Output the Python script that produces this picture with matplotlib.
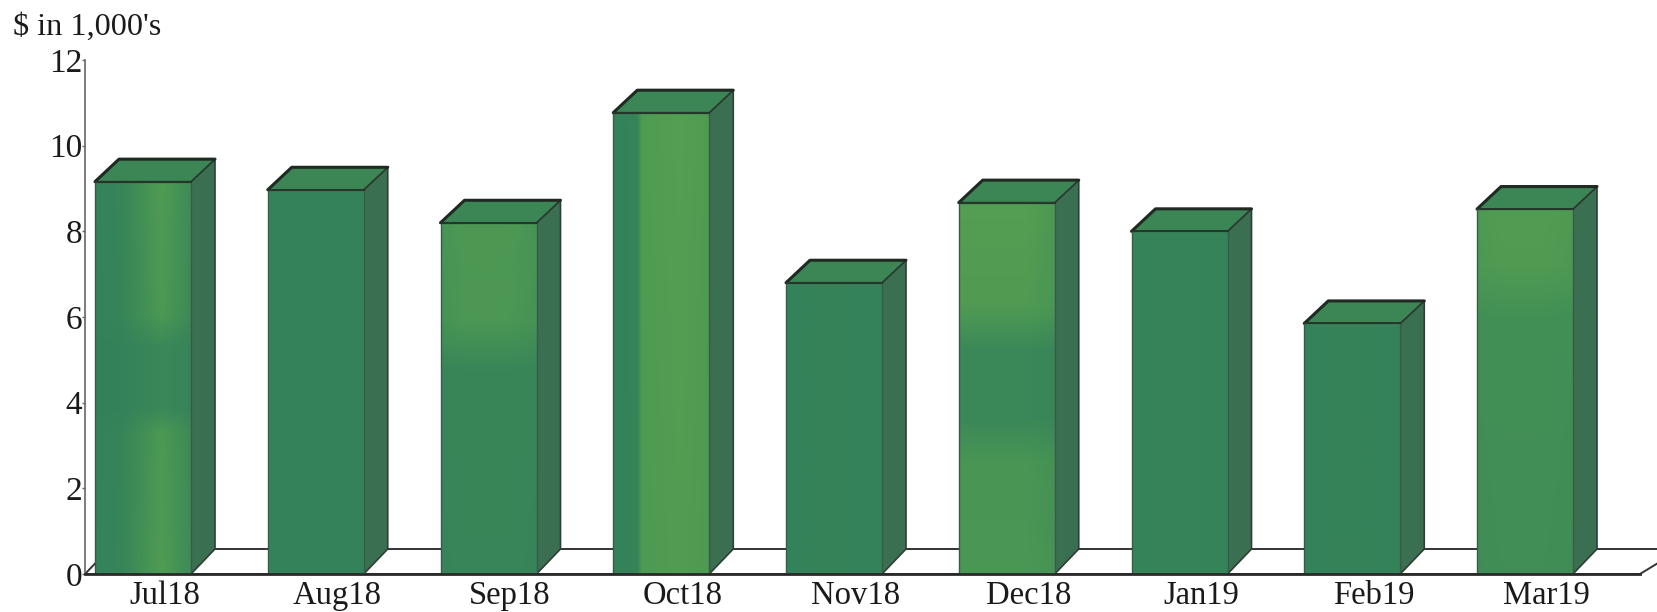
import numpy as np
import matplotlib
matplotlib.use("Agg")
import matplotlib.pyplot as plt
from matplotlib.colors import to_rgb
from matplotlib.patches import Polygon

months = ["Jul18", "Aug18", "Sep18", "Oct18", "Nov18", "Dec18", "Jan19", "Feb19", "Mar19"]
values = [9.16, 8.97, 8.2, 10.77, 6.8, 8.67, 8.0, 5.85, 8.52]
y_ticks = [0, 2, 4, 6, 8, 10, 12]
y_title = "$ in 1,000's"

# Look of each front face: value stops and brightness, plus brightness across the width
glow_y = [[0, .36, .42, .58, .66, 1], [0, 1], [0, .58, .72, 1], [0, 1], [0, 1], [0, .3, .42, .6, .72, 1],
          [0, 1], [0, 1], [0, .7, .85, 1]]
glow_v = [[.45, .4, .12, .12, .4, .45], [.05, .05], [.12, .15, .6, .65], [.75, .8], [.05, .05],
          [.6, .55, .18, .18, .7, .8], [.08, .08], [.05, .05], [.35, .4, .72, .75]]
glow_x = [[.1, .2, .3, 1.6, .6], [.6, .6, .6, 1, .6], [.8, 1, 1, 1, .8], [.05, .08, .9, 1, .9],
          [.8, 1, 1, 1, .8], [1, 1, 1, 1, .8], [.8, 1, 1, 1, .8], [.8, 1, 1, 1, .8], [.9, 1, 1, 1, .9]]
STOPS_X = [0, .25, .3, .7, 1]

W, H = 1657, 612
fig = plt.figure(figsize=(W / 100, H / 100), dpi=100, facecolor="white")
plt.rcParams["font.family"] = ["Liberation Serif", "DejaVu Serif"]
L, R, T, B = 85, 1657, 60, 574
ax = fig.add_axes([L / W, 1 - B / H, (R - L) / W, (B - T) / H])
ppx = 172.75
ax.set_xlim((L - 143) / ppx, (R - 143) / ppx)
ax.set_ylim(0, 12)

bw = 96 / ppx
dx = 24 / ppx
upx = (B - T) / 12
dy = 22.5 / upx
floor_dy = 25 / upx
dark = np.array(to_rgb("#33815a"))
light = np.array(to_rgb("#5ba650"))

x0, x1 = ax.get_xlim()
xr = (1640 - 143) / ppx
# floor
ax.add_patch(Polygon([(x0, 0), (x0 + dx, floor_dy), (x1 + dx, floor_dy), (xr, 0)],
                     closed=True, fc="white", ec="#333333", lw=1.4, clip_on=True, zorder=1))

for i, (m, v) in enumerate(zip(months, values)):
    l, r = i - bw / 2, i + bw / 2
    z = 2 + i
    # right side
    ax.add_patch(Polygon([(r, 0), (r + dx, floor_dy), (r + dx, v + dy), (r, v)], closed=True,
                         fc="#3b6f52", ec="#2f3f35", lw=1.2, zorder=z))
    # top
    ax.add_patch(Polygon([(l, v), (l + dx, v + dy), (r + dx, v + dy), (r, v)], closed=True,
                         fc="#3c8656", ec="#2a3a2e", lw=1.2, zorder=z))
    ax.plot([l, l + dx, r + dx], [v, v + dy, v + dy], color="#1f2a22", lw=2.2, zorder=z,
            solid_capstyle="round")
    # front face with shading
    ny, nx = 200, 96
    ys = np.linspace(1, 0, ny)
    xs = np.linspace(0, 1, nx)
    wy = np.interp(ys, glow_y[i], glow_v[i])
    wx = np.interp(xs, STOPS_X, glow_x[i])
    w = np.clip(np.outer(wy, wx), 0, 1)[..., None]
    img = dark * (1 - w) + light * w
    ax.imshow(img, extent=[l, r, 0, v], aspect="auto", zorder=z, interpolation="bilinear")
    ax.add_patch(Polygon([(l, 0), (l, v), (r, v), (r, 0)], closed=True, fc="none",
                         ec="#3a5a45", lw=1.0, zorder=z + .5))
    ax.plot([l, r], [v, v], color="#25352a", lw=1.4, zorder=z + .5)
ax.set_xlim(x0, x1)
ax.set_ylim(0, 12)

for s in ["top", "right", "bottom"]:
    ax.spines[s].set_visible(False)
ax.spines["left"].set_color("#666666")
ax.spines["left"].set_linewidth(1.2)
ax.plot([x0, xr], [0, 0], color="#2a2a2a", lw=2.0, clip_on=False, zorder=30)

ax.set_yticks(y_ticks)
ax.set_yticklabels([str(t) for t in y_ticks], fontsize=24, color="#1a1a1a")
ax.tick_params(axis="y", length=2, width=1, color="#666666", pad=0)
ax.set_xticks([i + 0.125 for i in range(len(months))])
ax.set_xticklabels(months, fontsize=23.5, color="#1a1a1a")
ax.tick_params(axis="x", length=0, pad=5)
fig.text(13 / W, 1 - 27 / H, y_title, fontsize=23.2, color="#1a1a1a", ha="left", va="center")
fig.savefig("out.png", dpi=100, facecolor="white")
